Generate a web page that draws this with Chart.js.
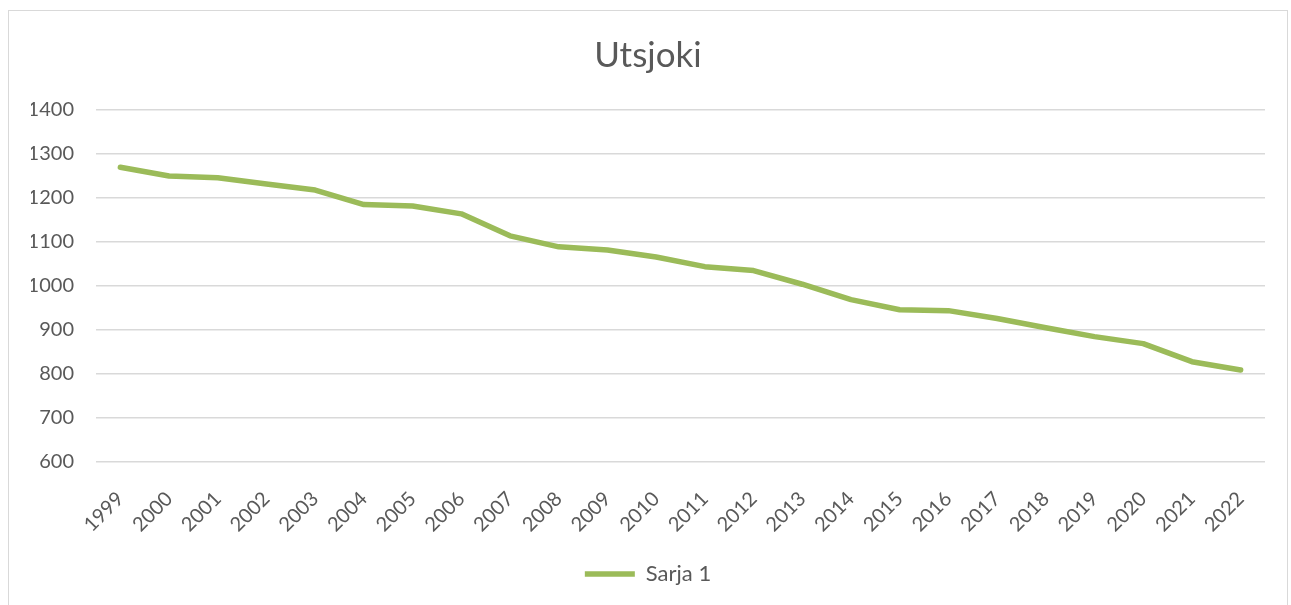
<!DOCTYPE html>
<html>
<head>
<meta charset="utf-8">
<script src="https://cdn.jsdelivr.net/npm/chart.js@4"></script>
<style>
html, body { margin: 0; padding: 0; background: #fff; overflow: hidden; }
#kehys { position: absolute; left: 8px; top: 10px; width: 1278px; height: 600px; border: 1px solid #d9d9d9; }
</style>
</head>
<body>
<div id="kehys"><canvas id="kaavio" width="1278" height="600"></canvas></div>
<script>
// vuodet ja asukasluku (luettu kuvasta)
const vuodet = ['1999','2000','2001','2002','2003','2004','2005','2006','2007','2008','2009','2010',
                '2011','2012','2013','2014','2015','2016','2017','2018','2019','2020','2021','2022'];
const asukkaat = [1270, 1250, 1246, 1232, 1218, 1185, 1182, 1164, 1114, 1089, 1082, 1066,
                  1044, 1035, 1004, 969, 946, 944, 926, 905, 885, 869, 828, 809];
const sarjanNimi = 'Sarja 1';
const otsikko = 'Utsjoki';
const yMin = 600, yMax = 1400, yAskel = 100;

const fontti = 'Lato, "Open Sans", sans-serif';
const harmaa = '#595959';

new Chart(document.getElementById('kaavio'), {
    type: 'line',
    data: {
        labels: vuodet,
        datasets: [{
            label: sarjanNimi,
            data: asukkaat,
            borderColor: '#9bbb59',
            backgroundColor: '#9bbb59',
            borderWidth: 5.5,
            pointRadius: 0,
            borderCapStyle: 'round',
            borderJoinStyle: 'round',
            tension: 0
        }]
    },
    options: {
        responsive: false,
        animation: false,
        layout: { padding: { left: 22, right: 22, top: 0, bottom: 16 } },
        plugins: {
            title: {
                display: true,
                text: otsikko,
                color: harmaa,
                font: { family: fontti, size: 35, weight: 'normal' },
                padding: { top: 24, bottom: 33 }
            },
            legend: {
                position: 'bottom',
                labels: {
                    usePointStyle: true,
                    pointStyle: 'line',
                    pointStyleWidth: 50,
                    color: harmaa,
                    font: { family: fontti, size: 22 },
                    padding: 10
                }
            },
            tooltip: { enabled: false }
        },
        scales: {
            x: {
                offset: true,
                grid: { display: false },
                border: { display: false },
                ticks: {
                    color: harmaa,
                    font: { family: fontti, size: 20 },
                    maxRotation: 45,
                    minRotation: 45,
                    autoSkip: false,
                    padding: 17
                },
                afterFit: s => { s.height = 91; }
            },
            y: {
                min: yMin,
                max: yMax,
                grid: { color: '#d9d9d9', lineWidth: 1.5, drawTicks: false },
                border: { display: false },
                ticks: {
                    stepSize: yAskel,
                    color: harmaa,
                    font: { family: fontti, size: 20 },
                    padding: 22,
                    callback: v => String(v)
                },
                afterFit: s => { s.width = 65; }
            }
        }
    }
});
</script>
</body>
</html>
